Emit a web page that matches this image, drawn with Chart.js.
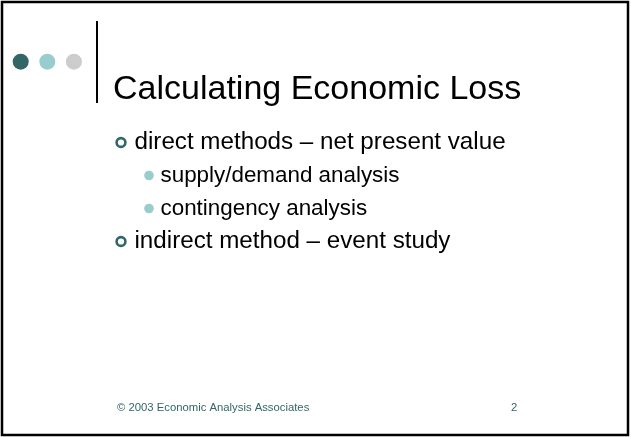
<!DOCTYPE html>
<html>
<head>
<meta charset="utf-8">
<script src="https://cdn.jsdelivr.net/npm/chart.js@4/dist/chart.umd.min.js"></script>
<style>
  html, body { margin: 0; padding: 0; background: #ffffff; }
  #wrap { position: relative; width: 631px; height: 437px; }
</style>
</head>
<body>
<div id="wrap"><canvas id="c" width="631" height="437"></canvas></div>
<script>
// ---- slide content (data) ----
const titleText = "Calculating Economic Loss";
const rowTexts = [
  "direct methods \u2013 net present value",
  "supply/demand analysis",
  "contingency analysis",
  "indirect method \u2013 event study"
];
const rowLevels = [1, 2, 2, 1];
const footerText = "\u00A9 2003 Economic Analysis Associates";
const pageNumber = "2";
const decoDotColors = ["#336666", "#99CCCC", "#CCCCCC"];

// ---- layout (positions / sizes / styles) ----
const L = {
  W: 631, H: 437,
  decoX0: 20.7, decoDX: 26.6, decoY: 61.7, decoR: 8,
  ruleX: 97, ruleY0: 21, ruleY1: 103,
  titleX: 113, titleBase: 99, titleFont: '34px "Liberation Sans", Arial, sans-serif',
  rowY0: 142.5, rowGap: 33,
  bulletX: {1: 121, 2: 149},
  textX: {1: 134.5, 2: 160.5},
  rowFont: {1: '24.2px "Liberation Sans", Arial, sans-serif', 2: '22.4px "Liberation Sans", Arial, sans-serif'},
  footerX: 117, footerY: 408, pageX: 511,
  footerFont: '11.3px "Liberation Sans", Arial, sans-serif',
  teal: "#336666", lightTeal: "#99CCCC"
};

const decoPoints = decoDotColors.map((c, i) => ({x: L.decoX0 + i * L.decoDX, y: L.decoY}));
const rowPoint = (lvl) => rowLevels.map((l, i) => l === lvl ? {x: L.bulletX[l], y: L.rowY0 + i * L.rowGap} : null).filter(Boolean);

const slideText = {
  id: 'slideText',
  afterDatasetsDraw(chart) {
    const ctx = chart.ctx, xs = chart.scales.x, ys = chart.scales.y;
    ctx.save();
    // frame
    ctx.strokeStyle = "#000";
    ctx.lineWidth = 2.5;
    ctx.strokeRect(xs.getPixelForValue(2), ys.getPixelForValue(2), xs.getPixelForValue(628) - xs.getPixelForValue(2), ys.getPixelForValue(435) - ys.getPixelForValue(2));
    // title
    ctx.fillStyle = "#000";
    ctx.textBaseline = "alphabetic";
    ctx.font = L.titleFont;
    ctx.fillText(titleText, xs.getPixelForValue(L.titleX), ys.getPixelForValue(L.titleBase));
    // rows
    ctx.textBaseline = "middle";
    rowTexts.forEach((t, i) => {
      const lvl = rowLevels[i];
      ctx.font = L.rowFont[lvl];
      ctx.fillText(t, xs.getPixelForValue(L.textX[lvl]), ys.getPixelForValue(L.rowY0 + i * L.rowGap));
    });
    // footer
    ctx.font = L.footerFont;
    ctx.fillStyle = L.teal;
    ctx.fillText(footerText, xs.getPixelForValue(L.footerX), ys.getPixelForValue(L.footerY));
    ctx.fillText(pageNumber, xs.getPixelForValue(L.pageX), ys.getPixelForValue(L.footerY));
    ctx.restore();
  }
};

new Chart(document.getElementById('c'), {
  type: 'scatter',
  data: {
    datasets: [
      {
        label: 'deco', data: decoPoints,
        pointRadius: L.decoR, pointBackgroundColor: decoDotColors, pointBorderWidth: 0, borderWidth: 0
      },
      {
        label: 'rule', type: 'line',
        data: [{x: L.ruleX, y: L.ruleY0}, {x: L.ruleX, y: L.ruleY1}],
        borderColor: '#000', borderWidth: 2, pointRadius: 0, fill: false
      },
      {
        label: 'level1', data: rowPoint(1),
        pointRadius: 4.4, pointBackgroundColor: '#fff', pointBorderColor: L.teal, pointBorderWidth: 2.6
      },
      {
        label: 'level2', data: rowPoint(2),
        pointRadius: 4.8, pointBackgroundColor: L.lightTeal, pointBorderWidth: 0
      }
    ]
  },
  options: {
    responsive: false,
    animation: false,
    events: [],
    layout: { padding: 0, autoPadding: false },
    plugins: { legend: { display: false }, tooltip: { enabled: false }, title: { display: false } },
    scales: {
      x: { type: 'linear', min: 0, max: L.W, display: false },
      y: { type: 'linear', min: 0, max: L.H, reverse: true, display: false }
    }
  },
  plugins: [slideText]
});
</script>
</body>
</html>
